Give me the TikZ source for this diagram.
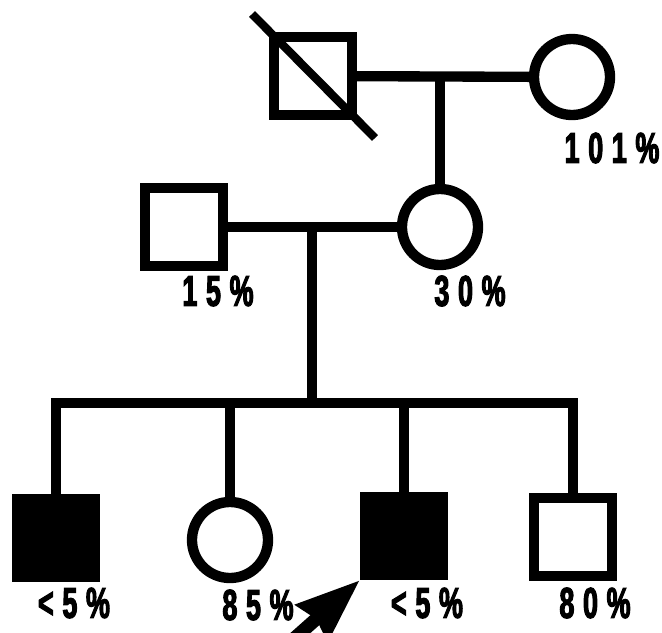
\documentclass[tikz,border=0pt]{standalone}
\usepackage{fontspec}
\newfontfamily\pctfont{Liberation Sans}[FakeStretch=0.62,LetterSpace=20,FakeBold=2.5]
\usetikzlibrary{positioning}
\usetikzlibrary{arrows.meta}
\usetikzlibrary{calc}
\tikzset{
  male/.style={draw, line width=0.31cm, minimum size=2.34cm, inner sep=0pt},
  female/.style={circle, draw, line width=0.31cm, minimum size=2.28cm, inner sep=0pt},
  affected/.style={fill=black},
  pct/.style={font=\pctfont\bfseries\fontsize{37}{40}\selectfont, inner sep=0pt},
  link/.style={line width=0.31cm},
}
\begin{document}
\begin{tikzpicture}[x=0.03cm, y=-0.03cm]
        \clip (0,0) rectangle (662,632);
        \node[male] (grandpa) at (313,76) {};
        \node[female] (grandma) at (572,77) {};
        \node[male] (father) at (184,227) {};
        \node[female] (mother) at (440,227) {};
        \node[male, affected] (son1) at (56,538) {};
        \node[female] (daughter) at (230,540) {};
        \node[male, affected] (proband) at (404,536) {};
        \node[male] (son2) at (573,537) {};

        \draw[line width=0.25cm] ($(grandpa)+(-61,-62)$) -- ($(grandpa)+(62,62)$);

        \draw[link] (grandpa) -- (grandma);
        \coordinate (mate1) at ($(grandpa)!0.5!(grandma)$);
        \draw[link] (mother.north) -- (mother.north |- mate1);
        \draw[link] (father) -- (mother);
        \coordinate (mate2) at ($(father)!0.5!(mother)$);
        \coordinate (sib) at ($(mate2)+(0,176)$);
        \draw[link] (mate2) -- (sib);
        \draw[link] (son1.north) |- (sib) -| (son2.north);
        \draw[link] (daughter.north) -- (daughter.north |- sib);
        \draw[link] (proband.north) -- (proband.north |- sib);

        \coordinate (pointer) at ($(proband.south west)+(-90,80)$);
        \draw[line width=0.4cm, -{Stealth[length=1.9cm, width=1.4cm, inset=0.15cm]}] (pointer) -- (proband.south west);

        \node[pct] (grandmapct) at (612,148) {101\%};
        \node[pct] (fatherpct) at (218,291) {15\%};
        \node[pct] (motherpct) at (470,291) {30\%};
        \node[pct] (son1pct) at (74,603) {<5\%};
        \node[pct] (daughterpct) at (258,605) {85\%};
        \node[pct] (probandpct) at (427,603) {<5\%};
        \node[pct] (son2pct) at (595,603) {80\%};
\end{tikzpicture}
\end{document}
